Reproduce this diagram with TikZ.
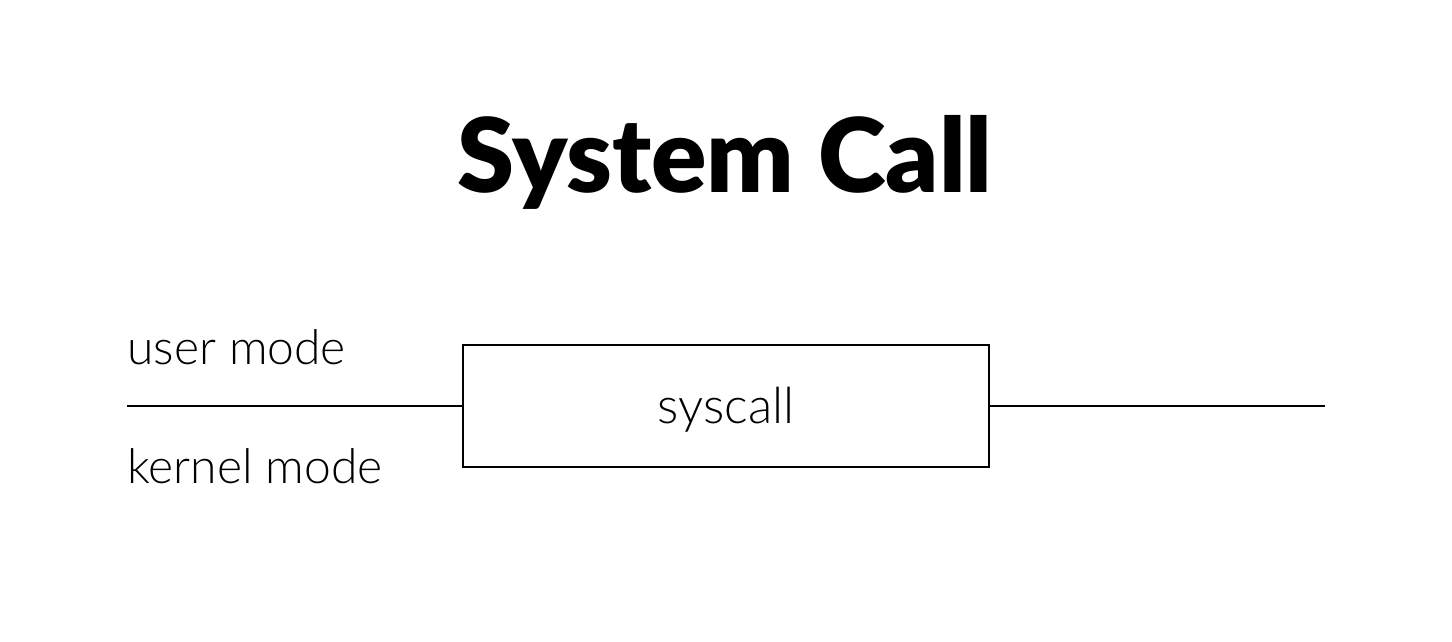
\documentclass[tikz,border=0pt]{standalone}
\usepackage{fontspec}
\newfontfamily\titlefont{Lato Black}
\newfontfamily\labelfont{Lato Light}
\usetikzlibrary{positioning}
\tikzset{
  heading/.style={anchor=base,inner sep=0pt,font=\titlefont\fontsize{103}{108}\selectfont},
  mode label/.style={anchor=base west,inner sep=0pt,font=\labelfont\fontsize{48}{52}\selectfont},
  call box/.style={draw,line width=1.2pt,minimum width=526pt,minimum height=122pt,inner sep=0pt,
    text depth=2pt,font=\labelfont\fontsize{50}{54}\selectfont},
  boundary/.style={draw=black,line width=1.2pt}
}
\begin{document}
\begin{tikzpicture}[x=1pt,y=-1pt]
\useasboundingbox (0,0) rectangle (1452,641);
% ---- title ----
\node[heading] (title) at (725,192) {System Call};
% ---- mode boundary ----
\node[call box] (syscall) at (726,406) {syscall};
\coordinate (bleft) at (127,406);
\coordinate (bright) at (1325,406);
\draw[boundary] (bleft) -- (syscall.west);
\draw[boundary] (syscall.east) -- (bright);
\node[mode label] (user) at (127,364) {user mode};
\node[mode label] (kernel) at (127,483) {kernel mode};
\end{tikzpicture}
\end{document}
